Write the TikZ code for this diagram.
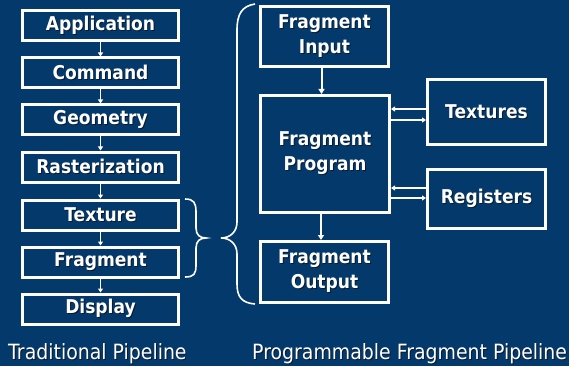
\documentclass[tikz,border=0pt]{standalone}
\usepackage{fontspec}
\setmainfont{DejaVu Sans}[FakeStretch=0.9]
\usetikzlibrary{arrows.meta}
\definecolor{bgblue}{HTML}{033A6B}
\definecolor{shadowc}{HTML}{0B1B30}
% text with a soft drop shadow one point down and right
\newcommand\shd[1]{\makebox[0pt][l]{\hspace{1pt}\raisebox{-1pt}{\color{shadowc}#1}}#1}
% shadowed line of a two-line label, lowered by the optional amount
\newcommand\lowline[2][2pt]{\raisebox{-#1}{\shd{#2}}}
\begin{document}
\begin{tikzpicture}[x=1pt,y=-1pt,
  box/.style={draw=white, line width=3pt, inner sep=0pt, text=white, align=center,
    font=\bfseries\fontsize{19}{25}\selectfont},
  stage/.style={box, minimum width=156pt, minimum height=30pt},
  bigbox/.style={box, minimum width=128pt},
  sidebox/.style={box, minimum width=118pt},
  flow/.style={draw=white, line width=2pt, -{Triangle[length=5pt,width=6pt]}},
  thin/.style={draw=white, line width=1.6pt, -{Triangle[length=4pt,width=5pt]}},
  brace/.style={draw=white, line width=1.6pt},
  caption/.style={text=white, inner sep=0pt, font=\fontsize{21}{24}\selectfont}]
\fill[bgblue] (0,0) rectangle (569,366);
\useasboundingbox (0,0) rectangle (569,366);

% traditional pipeline
\node[stage] (app)  at (100.5,26)  {\shd{Application}};
\node[stage] (cmd)  at (100.5,73)  {\shd{Command}};
\node[stage] (geo)  at (100.5,120) {\shd{Geometry}};
\node[stage] (rast) at (100.5,167) {\shd{Rasterization}};
\node[stage] (tex)  at (100.5,215) {\shd{Texture}};
\node[stage] (frag) at (100.5,262) {\shd{Fragment}};
\node[stage] (disp) at (100.5,309) {\shd{Display}};
\foreach \a/\b in {app/cmd, cmd/geo, geo/rast, rast/tex, tex/frag, frag/disp}
  \draw[thin] (\a.south) -- (\b.north);

% programmable fragment pipeline
\node[bigbox, minimum height=60pt]  (fin)  at (324.5,36.5)
  {\lowline[1pt]{Fragment}\\\lowline[1pt]{Input}};
\node[bigbox, minimum width=129pt, minimum height=117pt] (fprog) at (325,154)
  {\lowline[2pt]{Fragment}\\\lowline[2pt]{Program}};
\node[bigbox, minimum height=61pt]  (fout) at (324.5,272)
  {\lowline[3.5pt]{Fragment}\\\lowline[3.5pt]{Output}};
\node[sidebox, minimum height=65pt] (texs) at (486.5,112) {\shd{Textures}};
\node[sidebox, minimum height=59pt] (regs) at (486.5,199) {\shd{Registers}};

\draw[flow] ([xshift=-3pt]fin.south) -- ([xshift=-3pt]fin.south |- fprog.north);
\draw[flow] ([xshift=-4pt]fprog.south) -- ([xshift=-4pt]fprog.south |- fout.north);
\draw[thin] ([yshift=3pt]texs.west) -- ([yshift=3pt]texs.west -| fprog.east);
\draw[thin] ([yshift=-8pt]texs.west -| fprog.east) -- ([yshift=-8pt]texs.west);
\draw[thin] ([yshift=11pt]regs.west) -- ([yshift=11pt]regs.west -| fprog.east);
\draw[thin] ([yshift=1pt]regs.west -| fprog.east) -- ([yshift=1pt]regs.west);

% braces joining the two pipelines
\draw[brace] (185,199) .. controls (194,199) and (196,203) .. (196,212) -- (196,228)
  .. controls (196,235) and (200,238) .. (206,238)
  .. controls (200,238) and (196,241) .. (196,248) -- (196,265)
  .. controls (196,274) and (194,277) .. (185,277);
\draw[brace] (255,4) .. controls (242,6) and (237,14) .. (237,30) -- (237,222)
  .. controls (237,232) and (230,238) .. (221,238)
  .. controls (230,238) and (237,244) .. (237,254) -- (237,284)
  .. controls (237,297) and (242,303) .. (255,304);

% captions
\node[caption, anchor=base west] (capL) at (8,359) {\shd{Traditional Pipeline}};
\node[caption, anchor=base west] (capR) at (252,359) {\shd{Programmable Fragment Pipeline}};
\end{tikzpicture}
\end{document}
